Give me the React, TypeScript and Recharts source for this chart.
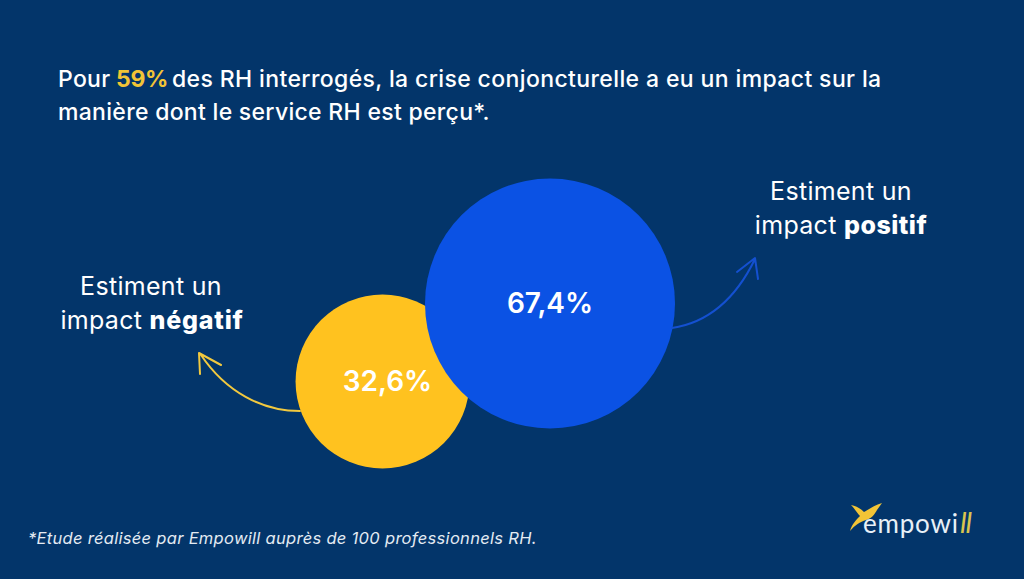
import { ScatterChart, Scatter, XAxis, YAxis, ZAxis, LabelList } from 'recharts'

const W = 1024
const H = 579

// parts of the answer, bubble area follows the share
const shares = [32.6, 67.4]
const shareLabels = ['32,6%', '67,4%']
const bubbleX = [382.5, 550]
const bubbleY = [381.5, 303.5]
const bubbleColors = ['#FFC21F', '#0B52E4']

const titleLines = ['des RH interrogés, la crise conjoncturelle a eu un impact sur la', 'manière dont le service RH est perçu*.']
const footnote = '*Etude réalisée par Empowill auprès de 100 professionnels RH.'

const FONT = 'Inter, "Noto Sans", sans-serif'
const BG = '#03356A'

const rows = shares.map((s, i) => ({ x: bubbleX[i], y: bubbleY[i], z: s, label: shareLabels[i] }))

export default function App() {
  return (
    <div style={{ position: 'absolute', left: 0, top: 0, width: W, height: H, background: BG, overflow: 'hidden' }}>
      <ScatterChart width={W} height={H} margin={{ top: 0, right: 0, bottom: 0, left: 0 }}>
        <XAxis type="number" dataKey="x" domain={[0, W]} hide />
        <YAxis type="number" dataKey="y" domain={[0, H]} reversed hide />
        <ZAxis type="number" dataKey="z" domain={[0, 67.4]} range={[0, 49087]} />
        {rows.map((r, i) => (
          <Scatter key={r.label} data={[r]} fill={bubbleColors[i]} isAnimationActive={false}>
            <LabelList
              dataKey="label"
              position="center"
              dx={i === 0 ? 5 : 0}
              fill="#FFFFFF"
              fontFamily={FONT}
              fontWeight={600}
              fontSize={28}
            />
          </Scatter>
        ))}
      </ScatterChart>

      <svg width={W} height={H} style={{ position: 'absolute', left: 0, top: 0 }} fontFamily={FONT}>
        {/* titre */}
        <text y={87} fontSize={23} letterSpacing={0.3} fill="#FFFFFF" fontWeight={500}>
          <tspan x={58}>Pour</tspan>
          <tspan x={116} fill="#F2C436" fontWeight={700} letterSpacing={-0.3}>59%</tspan>
          <tspan x={172} letterSpacing={0.38}>{titleLines[0]}</tspan>
        </text>
        <text x={58} y={120} fontSize={23} letterSpacing={0.3} fill="#FFFFFF" fontWeight={500}>{titleLines[1]}</text>

        {/* annotations */}
        <g fontSize={25} letterSpacing={0.3} fill="#FFFFFF" textAnchor="middle">
          <text x={841} y={200}>Estiment un</text>
          <text x={841} y={234}>impact <tspan fontWeight={800} letterSpacing={0.5}>positif</tspan></text>
          <text x={151} y={295}>Estiment un</text>
          <text x={152} y={329}>impact <tspan fontWeight={800} letterSpacing={0.8}>négatif</tspan></text>
        </g>

        {/* flèches */}
        <g fill="none" strokeWidth={2} strokeLinecap="round" strokeLinejoin="round">
          <path d="M300 411 C262 411 226 392 201 355 M200 374 L199 353 L221 365" stroke="#F2C93F" />
          <path d="M672 328 C712 322 738 294 755 259 M737 272 L755 258 L758 279" stroke="#1450D0" />
        </g>

        <text x={28} y={544} fontSize={16.5} letterSpacing={0.3} fontStyle="italic" fill="#E4EBF3">{footnote}</text>

        {/* logo */}
        <path
          d="M882 503 C874 505 868 510 864 512 C860 508 856 506 851 505 C855 509 857 513 860 516 C856 520 852 524 850 531 C855 525 860 522 866 520 C871 519 875 514 877 510 Z"
          fill="#F2C436"
        />
        <text x={863} y={533} fontSize={26} fill="#E8F0F7" fontFamily='Lato, sans-serif' letterSpacing={0.8}>empowi</text>
        <text x={960} y={533} fontSize={29} fill="#D9C44F" fontFamily='Lato, sans-serif' fontStyle="italic" letterSpacing={-1}>ll</text>
      </svg>
    </div>
  )
}
